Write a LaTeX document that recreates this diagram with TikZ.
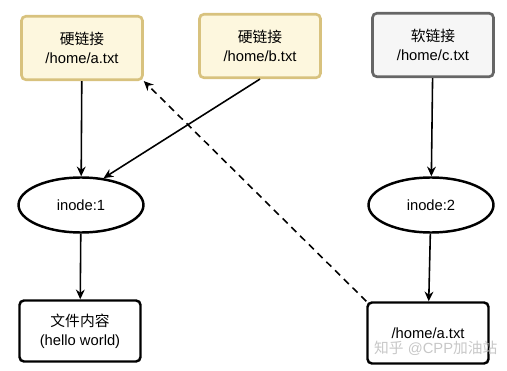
\documentclass[tikz,border=0pt]{standalone}
\usepackage{fontspec}
\setmainfont{Liberation Sans}
\newfontfamily\cjk{Noto Sans CJK SC}
\usetikzlibrary{arrows.meta, shapes.geometric}

\definecolor{hardfill}{HTML}{FDF7DE}
\definecolor{harddraw}{HTML}{D8C27E}
\definecolor{softfill}{HTML}{F6F6F6}
\definecolor{softdraw}{HTML}{666666}

\begin{document}
\begin{tikzpicture}[x=0.02cm, y=-0.02cm, >={Stealth[length=5.5pt, width=5pt]},
    every node/.style={font=\fontsize{8.4}{11}\selectfont, align=center},
    hardbox/.style={draw=harddraw, fill=hardfill, line width=1.5pt, rounded corners=2.5pt,
      minimum width=2.42cm, minimum height=1.27cm},
    softbox/.style={draw=softdraw, fill=softfill, line width=1.5pt, rounded corners=2.5pt,
      minimum width=2.42cm, minimum height=1.27cm},
    filebox/.style={draw, line width=1.4pt, rounded corners=2.5pt,
      minimum width=2.42cm, minimum height=1.22cm},
    inode/.style={draw, ellipse, line width=1.4pt, minimum width=2.5cm, minimum height=1.1cm},
    link/.style={->, line width=0.9pt}]

    \useasboundingbox (0,0) rectangle (507,371);

    %% 第一排：链接
    \node[hardbox] (ha) at (82,48) {{\cjk 硬链接}\\/home/a.txt};
    \node[hardbox] (hb) at (260,46) {{\cjk 硬链接}\\/home/b.txt};
    \node[softbox] (sc) at (433,45) {{\cjk 软链接}\\/home/c.txt};

    %% 第二排：inode
    \node[inode] (i1) at (81,205) {inode:1};
    \node[inode] (i2) at (431,205) {inode:2};

    %% 第三排：数据
    \node[filebox] (data) at (80,331) {{\cjk 文件内容}\\(hello world)};
    \node[filebox] (path) at (428,333) {/home/a.txt};

    % 连线
    \draw[link] (ha) -- (i1);
    \draw[link] (hb.south) -- (i1.50);
    \draw[link] (sc) -- (i2);
    \draw[link] (i1) -- (data);
    \draw[link] (i2) -- (path);
    \draw[link, dashed, dash pattern=on 4pt off 3pt] (path.north west) -- (ha.south east);

    % 水印
    \node[text=black!22, anchor=west] (mark) at (368,348) {{\cjk 知乎} @CPP{\cjk 加油站}};

\end{tikzpicture}
\end{document}
